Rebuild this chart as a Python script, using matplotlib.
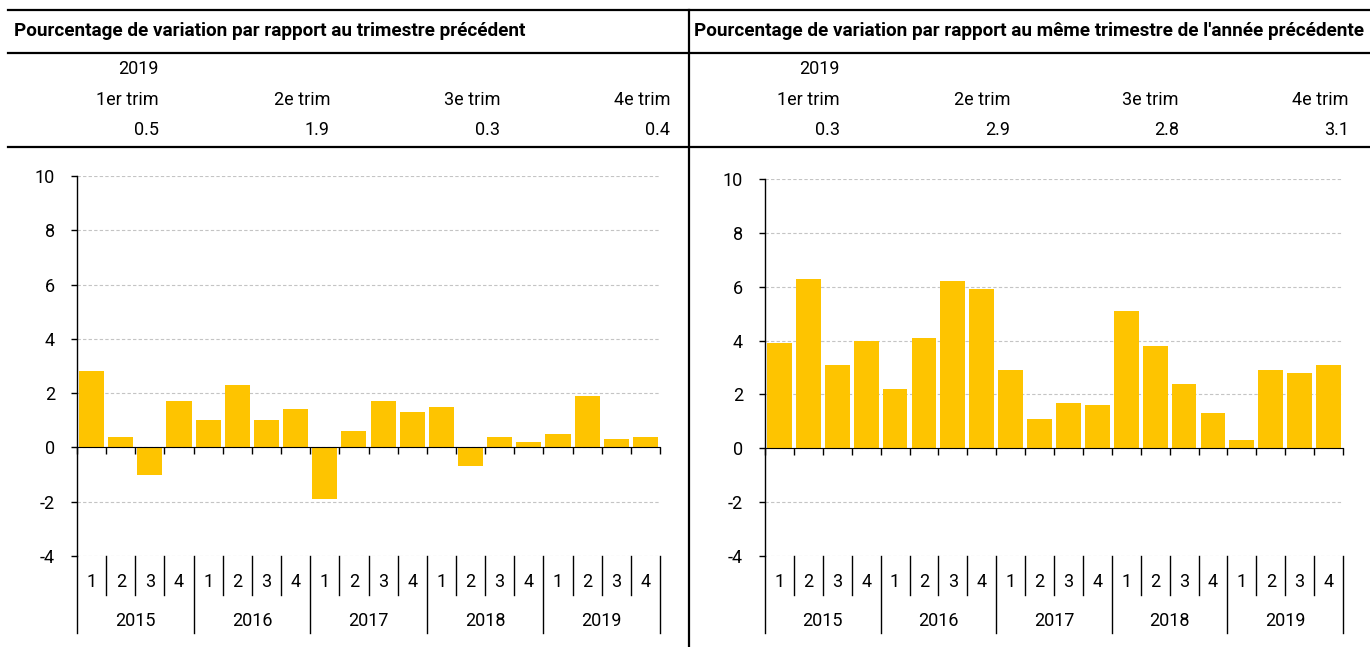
import numpy as np
import matplotlib
matplotlib.use("Agg")
import matplotlib.pyplot as plt
from matplotlib.lines import Line2D
from matplotlib.transforms import blended_transform_factory

years = ["2015", "2016", "2017", "2018", "2019"]
quarters = ["1", "2", "3", "4"]
qoq = [2.8, 0.4, -1.0, 1.7, 1.0, 2.3, 1.0, 1.4, -1.9, 0.6, 1.7, 1.3,
       1.5, -0.7, 0.4, 0.2, 0.5, 1.9, 0.3, 0.4]
yoy = [3.9, 6.3, 3.1, 4.0, 2.2, 4.1, 6.2, 5.9, 2.9, 1.1, 1.7, 1.6,
       5.1, 3.8, 2.4, 1.3, 0.3, 2.9, 2.8, 3.1]
titles = ["Pourcentage de variation par rapport au trimestre précédent",
          "Pourcentage de variation par rapport au même trimestre de l'année précédente"]
table_year = "2019"
trim_labels = ["1er trim", "2e trim", "3e trim", "4e trim"]
yticks = [-4, -2, 0, 2, 4, 6, 8, 10]

plt.rcParams["font.family"] = ["Roboto", "DejaVu Sans"]

W, H = 1370, 647
BAR = "#FEC400"
FS = 13


def fx(px):
    return px / W


def fy(py):
    return 1 - py / H


fig = plt.figure(figsize=(W / 100, H / 100), dpi=100)

# table frame
for py in [10, 53, 147]:
    fig.add_artist(Line2D([fx(8), 1], [fy(py), fy(py)], color="black", lw=1.6))
fig.add_artist(Line2D([fx(689), fx(689)], [fy(10), 0], color="black", lw=1.6))

# table text
title_x = [14, 694]
col_right = [[159, 330, 500, 670], [840, 1010, 1179, 1349]]
for k, vals in enumerate([qoq, yoy]):
    fig.text(fx(title_x[k]), fy(31), titles[k], fontsize=13.6, fontweight="bold",
             ha="left", va="center")
    fig.text(fx(col_right[k][0]), fy(69), table_year, fontsize=FS, ha="right", va="center")
    last = vals[-4:]
    for j in range(4):
        fig.text(fx(col_right[k][j]), fy(100), trim_labels[j], fontsize=FS,
                 ha="right", va="center")
        fig.text(fx(col_right[k][j]), fy(130), "{:.1f}".format(last[j]), fontsize=FS,
                 ha="right", va="center")


def draw_panel(ax, values):
    x = np.arange(len(values))
    ax.bar(x, values, width=0.86, color=BAR, zorder=3)
    ax.set_xlim(-0.5, len(values) - 0.5)
    ax.set_ylim(-4, 10)
    ax.set_yticks(yticks)
    ax.set_yticklabels([str(t) for t in yticks], fontsize=FS)
    ax.yaxis.grid(True, ls=(0, (3, 2)), color="#c4c4c4", lw=0.8)
    ax.set_axisbelow(True)
    for s in ["top", "right"]:
        ax.spines[s].set_visible(False)
    ax.spines["bottom"].set_position(("data", 0))
    ax.spines["bottom"].set_zorder(4)
    ax.spines["left"].set_linewidth(1.0)
    ax.set_xticks(np.arange(-0.5, len(values), 1))
    ax.set_xticklabels([])
    ax.tick_params(axis="x", direction="out", length=5, width=1)
    ax.tick_params(axis="y", direction="out", length=4, width=1, pad=12)

    tr = blended_transform_factory(ax.transData, fig.transFigure)
    # left spine carries on past the category labels
    ax.plot([-0.5, -0.5], [fy(556), fy(633)], transform=tr, color="black",
            lw=1.0, clip_on=False)
    n = len(values)
    for b in range(1, n + 1):
        xb = b - 0.5
        bottom = 633 if b % 4 == 0 else 595
        ax.plot([xb, xb], [fy(556), fy(bottom)], transform=tr, color="black",
                lw=1.0, clip_on=False)
    for i in range(n):
        ax.text(i, fy(582), quarters[i % 4], transform=tr, fontsize=FS,
                ha="center", va="center")
    for k, yr in enumerate(years):
        ax.text(4 * k + 1.5, fy(621), yr, transform=tr, fontsize=FS,
                ha="center", va="center")


ax1 = fig.add_axes([fx(77), fy(556), fx(660 - 77), (556 - 176) / H])
draw_panel(ax1, qoq)
ax2 = fig.add_axes([fx(765), fy(556), fx(1343 - 765), (556 - 179) / H])
draw_panel(ax2, yoy)

fig.savefig("out.png", dpi=100)
